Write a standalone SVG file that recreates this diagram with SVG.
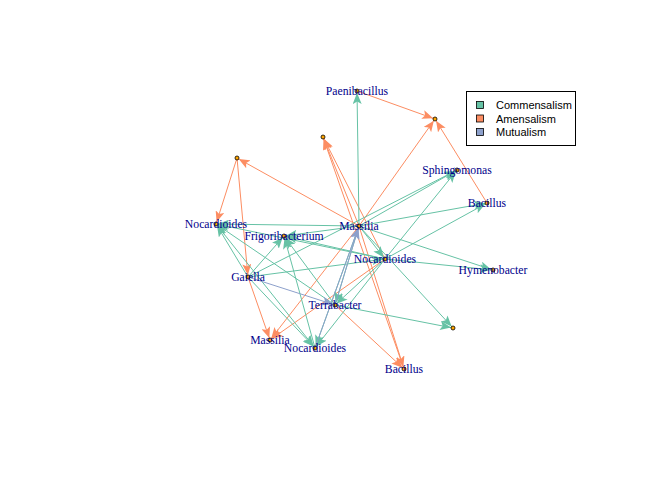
<svg xmlns="http://www.w3.org/2000/svg" width="672" height="480" viewBox="0 0 672 480">
<defs>
<style>
.e{stroke-width:1;fill:none}
.c{stroke:#66C2A5}
.a{stroke:#FC8D62}
.m{stroke:#8DA0CB}
.c{marker-end:url(#hc)}
.a{marker-end:url(#ha)}
.m{marker-end:url(#hm)}
.n{fill:#FFA500;stroke:#000;stroke-width:0.8}
.l{font-family:"Liberation Serif","Times New Roman",serif;font-size:11.7px;fill:#00008B;text-anchor:middle}
.lg{font-family:"Liberation Sans",Arial,sans-serif;font-size:11px;fill:#000}
</style>
<marker id="hc" markerUnits="userSpaceOnUse" viewBox="0 0 13 9" refX="13" refY="4.5" markerWidth="13" markerHeight="9" orient="auto"><path d="M0,0 L11,4.5 L0,9 L2.5,4.5 z" fill="#66C2A5"/></marker>
<marker id="ha" markerUnits="userSpaceOnUse" viewBox="0 0 13 9" refX="13" refY="4.5" markerWidth="13" markerHeight="9" orient="auto"><path d="M0,0 L11,4.5 L0,9 L2.5,4.5 z" fill="#FC8D62"/></marker>
<marker id="hm" markerUnits="userSpaceOnUse" viewBox="0 0 13 9" refX="13" refY="4.5" markerWidth="13" markerHeight="9" orient="auto"><path d="M0,0 L11,4.5 L0,9 L2.5,4.5 z" fill="#8DA0CB"/></marker>
</defs>
<rect width="672" height="480" fill="#fff"/>
<g id="connectors">
<!-- Amensalism -->
<line class="e a" x1="357" y1="91" x2="435" y2="119"/>
<line class="e a" x1="487" y1="203" x2="435" y2="119"/>
<line class="e a" x1="359" y1="226" x2="435" y2="119"/>
<line class="e a" x1="359" y1="226" x2="323" y2="137"/>
<line class="e a" x1="385" y1="259" x2="323" y2="137"/>
<line class="e a" x1="404" y1="369" x2="323" y2="137"/>
<line class="e a" x1="359" y1="226" x2="237" y2="158"/>
<line class="e a" x1="237" y1="158" x2="216" y2="224"/>
<line class="e a" x1="237" y1="158" x2="248" y2="277"/>
<line class="e a" x1="248" y1="277" x2="270" y2="340"/>
<line class="e a" x1="359" y1="226" x2="270" y2="340"/>
<line class="e a" x1="385" y1="259" x2="270" y2="340"/>
<line class="e a" x1="359" y1="226" x2="404" y2="369"/>
<line class="e a" x1="335" y1="305" x2="404" y2="369"/>
<!-- Commensalism -->
<line class="e c" x1="359" y1="226" x2="357" y2="91"/>
<line class="e c" x1="359" y1="226" x2="457" y2="170"/>
<line class="e c" x1="385" y1="259" x2="457" y2="170"/>
<line class="e c" x1="248" y1="277" x2="457" y2="170"/>
<line class="e c" x1="359" y1="226" x2="487" y2="203"/>
<line class="e c" x1="385" y1="259" x2="487" y2="203"/>
<line class="e c" x1="359" y1="226" x2="493" y2="270"/>
<line class="e c" x1="385" y1="259" x2="493" y2="270"/>
<line class="e c" x1="359" y1="226" x2="385" y2="259"/>
<line class="e c" x1="248" y1="277" x2="385" y2="259"/>
<line class="e c" x1="359" y1="226" x2="453" y2="328"/>
<line class="e c" x1="335" y1="305" x2="453" y2="328"/>
<line class="e c" x1="359" y1="226" x2="216" y2="224"/>
<line class="e c" x1="385" y1="259" x2="216" y2="224"/>
<line class="e c" x1="335" y1="305" x2="216" y2="224"/>
<line class="e c" x1="248" y1="277" x2="216" y2="224"/>
<line class="e c" x1="359" y1="226" x2="284" y2="236"/>
<line class="e c" x1="385" y1="259" x2="284" y2="236"/>
<line class="e c" x1="248" y1="277" x2="284" y2="236"/>
<line class="e c" x1="315" y1="348" x2="284" y2="236"/>
<line class="e c" x1="335" y1="305" x2="284" y2="236"/>
<line class="e c" x1="248" y1="277" x2="315" y2="348"/>
<line class="e c" x1="216" y1="224" x2="315" y2="348"/>
<line class="e c" x1="385" y1="259" x2="315" y2="348"/>
<line class="e c" x1="359" y1="226" x2="315" y2="348"/>
<line class="e c" x1="359" y1="226" x2="335" y2="305"/>
<line class="e c" x1="385" y1="259" x2="335" y2="305"/>
<!-- Mutualism -->
<line class="e m" x1="248" y1="277" x2="335" y2="305"/>
<line class="e m" x1="335" y1="305" x2="359" y2="226"/>
<line class="e m" x1="315" y1="348" x2="359" y2="226"/>
</g>
<g id="n_unk1"><circle class="n" cx="435" cy="119" r="2"/></g>
<g id="n_unk2"><circle class="n" cx="323" cy="137" r="2"/></g>
<g id="n_unk3"><circle class="n" cx="237" cy="158" r="2"/></g>
<g id="n_unk4"><circle class="n" cx="453" cy="328" r="2"/></g>
<g id="n_paenibacillus"><circle class="n" cx="357" cy="91" r="2"/><text class="l" x="357" y="95">Paenibacillus</text></g>
<g id="n_sphingomonas"><circle class="n" cx="457" cy="170" r="2"/><text class="l" x="457" y="174">Sphingomonas</text></g>
<g id="n_bacillus1"><circle class="n" cx="487" cy="203" r="2"/><text class="l" x="487" y="207">Bacillus</text></g>
<g id="n_nocardioides1"><circle class="n" cx="216" cy="224" r="2"/><text class="l" x="216" y="228">Nocardioides</text></g>
<g id="n_massilia1"><circle class="n" cx="359" cy="226" r="2"/><text class="l" x="359" y="230">Massilia</text></g>
<g id="n_frigoribacterium"><circle class="n" cx="284" cy="236" r="2"/><text class="l" x="284" y="240">Frigoribacterium</text></g>
<g id="n_nocardioides2"><circle class="n" cx="385" cy="259" r="2"/><text class="l" x="385" y="263">Nocardioides</text></g>
<g id="n_hymenobacter"><circle class="n" cx="493" cy="270" r="2"/><text class="l" x="493" y="274">Hymenobacter</text></g>
<g id="n_gaiella"><circle class="n" cx="248" cy="277" r="2"/><text class="l" x="248" y="281">Gaiella</text></g>
<g id="n_terrabacter"><circle class="n" cx="335" cy="305" r="2"/><text class="l" x="335" y="309">Terrabacter</text></g>
<g id="n_massilia2"><circle class="n" cx="270" cy="340" r="2"/><text class="l" x="270" y="344">Massilia</text></g>
<g id="n_nocardioides3"><circle class="n" cx="315" cy="348" r="2"/><text class="l" x="315" y="352">Nocardioides</text></g>
<g id="n_bacillus2"><circle class="n" cx="404" cy="369" r="2"/><text class="l" x="404" y="373">Bacillus</text></g>
<g id="legend">
<rect x="466.5" y="91.5" width="109" height="54" fill="#fff" stroke="#000" stroke-width="1"/>
<rect x="476.5" y="101.5" width="7" height="7" fill="#66C2A5" stroke="#000" stroke-width="0.8"/>
<rect x="476.5" y="115" width="7" height="7" fill="#FC8D62" stroke="#000" stroke-width="0.8"/>
<rect x="476.5" y="128.5" width="7" height="7" fill="#8DA0CB" stroke="#000" stroke-width="0.8"/>
<text class="lg" x="496" y="109">Commensalism</text>
<text class="lg" x="496" y="122.5">Amensalism</text>
<text class="lg" x="496" y="136">Mutualism</text>
</g>
</svg>
